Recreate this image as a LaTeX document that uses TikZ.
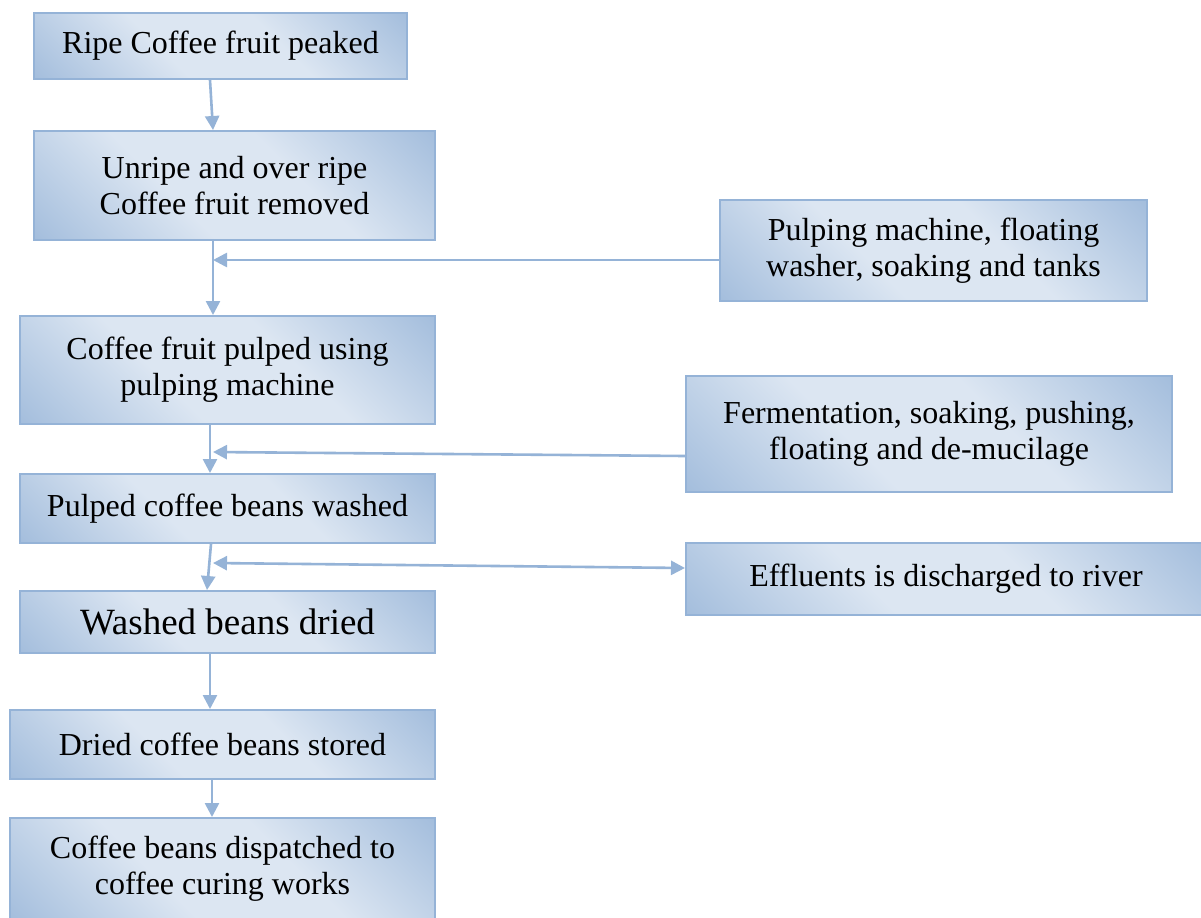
\documentclass[tikz,border=0pt]{standalone}
\usepackage{fontspec}
\setmainfont{Liberation Serif}
\usetikzlibrary{arrows.meta}
\definecolor{boxdark}{HTML}{95B3D7}
\definecolor{boxlight}{HTML}{DCE6F2}
\definecolor{edgeblue}{HTML}{95B3D7}
\pgfdeclareverticalshading{wordgrad}{100bp}{color(0bp)=(boxdark); color(8bp)=(boxdark); color(40bp)=(boxlight); color(60bp)=(boxlight); color(92bp)=(boxdark); color(100bp)=(boxdark)}
\begin{document}
\begin{tikzpicture}[x=0.5pt,y=-0.5pt,
  proc/.style={draw=edgeblue, line width=1pt, shade, shading=wordgrad, shading angle=-45,
    align=center, inner sep=0pt, font=\fontsize{16}{18}\selectfont},
  flow/.style={draw=edgeblue, line width=1.3pt, -{Triangle[width=7pt,length=7pt]}},
  flowboth/.style={draw=edgeblue, line width=1.3pt, {Triangle[width=7pt,length=7pt]}-{Triangle[width=7pt,length=7pt]}},
]
\clip (0,0) rectangle (1201,917);
\fill[white] (0,0) rectangle (1201,917);

\node[proc, minimum width=186.5pt, minimum height=33pt] (n1) at (220.5,46) {Ripe Coffee fruit peaked};
\node[proc, minimum width=200.5pt, minimum height=54.5pt] (n2) at (234.5,185.5) {Unripe and over ripe\\Coffee fruit removed};
\node[proc, minimum width=213.5pt, minimum height=50.5pt] (n3) at (933.5,250.5) {Pulping machine, floating\\washer, soaking and tanks};
\node[proc, minimum width=207.5pt, minimum height=54pt] (n4) at (227.5,370) {Coffee fruit pulped using\\pulping machine};
\node[proc, minimum width=243pt, minimum height=58pt] (n5) at (929,434) {Fermentation, soaking, pushing,\\floating and de-mucilage};
\node[proc, minimum width=207.5pt, minimum height=34.5pt] (n6) at (227.5,508.5) {Pulped coffee beans washed};
\node[proc, minimum width=260pt, minimum height=36pt] (n7) at (946,579) {Effluents is discharged to river};
\node[proc, minimum width=207.5pt, minimum height=31pt, font=\fontsize{18.5}{20}\selectfont] (n8) at (227.5,622) {Washed beans dried};
\node[proc, minimum width=212.5pt, minimum height=34.5pt] (n9) at (222.5,744.5) {Dried coffee beans stored};
\node[proc, minimum width=212.5pt, minimum height=51pt] (n10) at (222.5,869) {Coffee beans dispatched to\\coffee curing works};

\coordinate (j1) at (213,260);
\coordinate (j2) at (213,452);
\coordinate (j3) at (213,563);

\draw[flow] ([xshift=-5.25pt]n1.south) -- ([xshift=-10.75pt]n2.north);
\draw[flow] ([xshift=-10.75pt]n2.south) -- ([xshift=-7.25pt]n4.north);
\draw[flow] ([yshift=-4.75pt]n3.west) -- (j1);
\draw[flow] ([xshift=-8.75pt]n4.south) -- ([xshift=-8.75pt]n6.north);
\draw[flow] ([yshift=-11pt]n5.west) -- (j2);
\draw[flow] ([xshift=-8.25pt]n6.south) -- ([xshift=-10.25pt]n8.north);
\draw[flowboth] (j3) -- ([yshift=5.5pt]n7.west);
\draw[flow] ([xshift=-8.75pt]n8.south) -- ([xshift=-6.25pt]n9.north);
\draw[flow] ([xshift=-5.25pt]n9.south) -- ([xshift=-5.25pt]n10.north);
\end{tikzpicture}
\end{document}
